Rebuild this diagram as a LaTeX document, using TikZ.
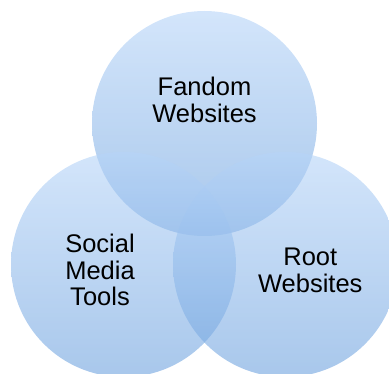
\documentclass[tikz,border=0pt]{standalone}
\usepackage{fontspec}
\setmainfont{Liberation Sans}
\definecolor{circtop}{RGB}{182,212,248}
\definecolor{circbot}{RGB}{110,162,222}
\begin{document}
\begin{tikzpicture}[x=1pt,y=-1pt,
  venn/.style={circle, inner sep=0pt, minimum size=225pt, top color=circtop, bottom color=circbot, fill opacity=0.6, draw=none},
  lbl/.style={align=center, inner sep=0pt, font=\fontsize{25.5}{26.5}\selectfont, text=black}]
\useasboundingbox (0,0) rectangle (389,374);
\node[venn] (fandom) at (204.5,123.5) {};
\node[venn] (social) at (123.5,264.5) {};
\node[venn] (root) at (285.5,264.5) {};
\node[lbl] (tf) at (204.5,100) {Fandom\\Websites};
\node[lbl] (ts) at (100,270) {Social\\Media\\Tools};
\node[lbl] (tr) at (310.3,270.5) {Root\\Websites};
\end{tikzpicture}
\end{document}
